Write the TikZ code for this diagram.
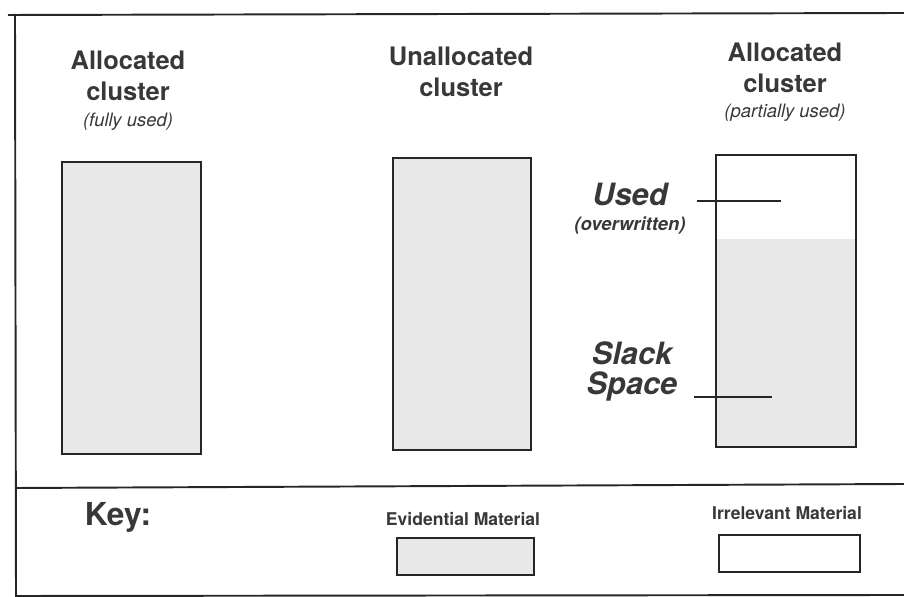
\documentclass[tikz,border=0pt]{standalone}
\usepackage{fontspec}
\setmainfont{TeX Gyre Heros}
\usetikzlibrary{positioning}

\definecolor{ink}{gray}{0.22}
\definecolor{stipple}{gray}{0.91}

\tikzset{
  heading/.style={font=\bfseries\fontsize{14.5}{17.5}\selectfont, text=ink, align=center},
  aside/.style={font=\itshape\fontsize{10.5}{12}\selectfont, text=ink},
  callout/.style={font=\bfseries\itshape\fontsize{17.5}{20}\selectfont, text=ink, inner sep=0pt},
  cluster/.style={draw=black!85, line width=1.4pt},
  frameline/.style={black!85, line width=1.1pt},
  leader/.style={black!85, line width=0.7pt}
}

\begin{document}
\begin{tikzpicture}[x=0.02cm, y=-0.02cm]
  \useasboundingbox (0,0) rectangle (904,597);

  % outer frame and divider above the key
  \draw [frameline] (8,15) -- (904,13);
  \draw [frameline] (15,14) -- (16,597);
  \draw [frameline] (15,488) -- (904,484);
  \draw [frameline] (15,596) -- (904,595);

  % column headings
  \node [heading] (fullhead) at (128,76) {Allocated\\cluster};
  \node [aside] (fullnote) at (128,122) {(fully used)};
  \node [heading] (freehead) at (461,72) {Unallocated\\cluster};
  \node [heading] (parthead) at (785,68) {Allocated\\cluster};
  \node [aside] (partnote) at (785,113) {(partially used)};

  % the three clusters
  \draw [cluster, fill=stipple] (62,162) rectangle (201,454);
  \draw [cluster, fill=stipple] (393,158) rectangle (531,450);
  \fill [stipple] (716,239) rectangle (856,447);
  \draw [cluster] (716,155) rectangle (856,447);

  % labels inside the partly used cluster
  \node [callout] (used) at (630,194) {Used};
  \node [font=\bfseries\itshape\fontsize{10.5}{12}\selectfont, text=ink] (overw) at (630,226) {(overwritten)};
  \node [callout, anchor=base] (slack) at (632,365) {Slack};
  \node [callout, anchor=base] (space) at (632,395) {Space};
  \coordinate (usedfrom) at (697,201);
  \coordinate (usedto) at (781,201);
  \coordinate (slackfrom) at (694,397);
  \coordinate (slackto) at (772,397);
  \draw [leader] (usedfrom) -- (usedto);
  \draw [leader] (slackfrom) -- (slackto);

  % key
  \node [font=\bfseries\fontsize{18}{20}\selectfont, text=ink] (key) at (118,517) {Key:};
  \node [font=\bfseries\fontsize{10}{12}\selectfont, text=ink] (evid) at (463,519) {Evidential Material};
  \node [font=\bfseries\fontsize{10}{12}\selectfont, text=ink] (irrel) at (787,513) {Irrelevant Material};
  \draw [cluster, fill=stipple] (397,538) rectangle (534,575);
  \draw [cluster] (719,535) rectangle (860,572);
\end{tikzpicture}
\end{document}
